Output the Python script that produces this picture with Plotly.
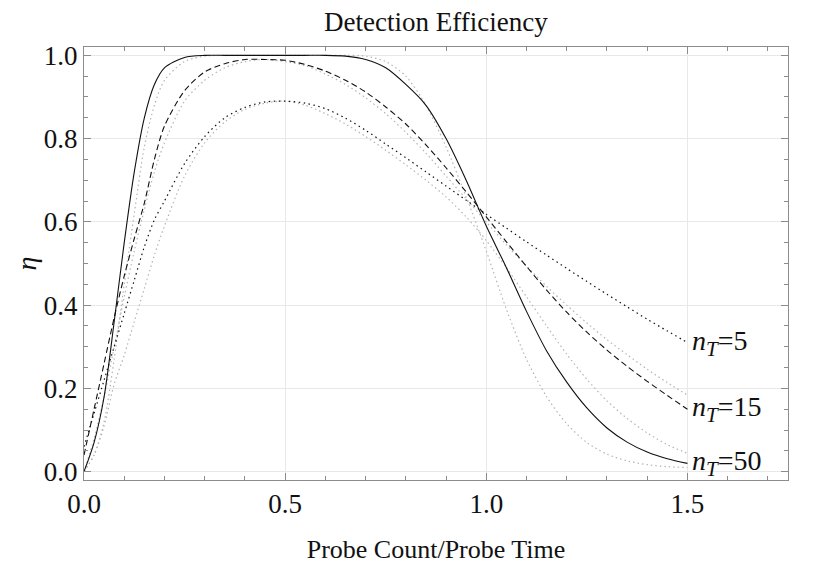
import plotly.graph_objects as go

# probe count / probe time samples
x = [0.0, 0.025, 0.05, 0.075, 0.1, 0.125, 0.15, 0.175, 0.2, 0.25, 0.3, 0.35, 0.4, 0.45,
     0.5, 0.55, 0.6, 0.65, 0.7, 0.75, 0.8, 0.85, 0.9, 0.95, 1.0, 1.05, 1.1, 1.15, 1.2,
     1.25, 1.3, 1.35, 1.4, 1.45, 1.5]

# black curves, one per n_T
eta_n50 = [0.0, 0.07, 0.18, 0.36, 0.55, 0.72, 0.85, 0.93, 0.97, 0.995, 1.0, 1.0, 1.0, 1.0,
           1.0, 1.0, 1.0, 0.998, 0.99, 0.97, 0.93, 0.88, 0.80, 0.70, 0.59, 0.49, 0.385, 0.29,
           0.215, 0.153, 0.105, 0.071, 0.047, 0.031, 0.02]
eta_n15 = [0.04, 0.15, 0.26, 0.37, 0.47, 0.56, 0.645, 0.75, 0.83, 0.915, 0.96, 0.98, 0.99,
           0.99, 0.988, 0.978, 0.962, 0.94, 0.912, 0.876, 0.835, 0.785, 0.73, 0.672, 0.612,
           0.552, 0.493, 0.436, 0.383, 0.335, 0.292, 0.253, 0.217, 0.183, 0.15]
eta_n5 = [0.06, 0.14, 0.22, 0.30, 0.38, 0.46, 0.54, 0.605, 0.65, 0.74, 0.805, 0.85, 0.875,
          0.888, 0.89, 0.885, 0.872, 0.849, 0.82, 0.787, 0.754, 0.72, 0.686, 0.652, 0.618,
          0.585, 0.552, 0.52, 0.488, 0.457, 0.426, 0.396, 0.366, 0.338, 0.31]

# light grey dotted comparison curves
grey_a = [0.0, 0.04, 0.12, 0.27, 0.45, 0.62, 0.78, 0.88, 0.94, 0.985, 0.998, 1.0, 1.0, 1.0,
          1.0, 1.0, 1.0, 1.0, 0.998, 0.985, 0.95, 0.88, 0.78, 0.66, 0.53, 0.39, 0.27, 0.18,
          0.115, 0.07, 0.042, 0.026, 0.017, 0.012, 0.01]
grey_b = [0.0, 0.04, 0.11, 0.21, 0.28, 0.36, 0.44, 0.52, 0.59, 0.71, 0.79, 0.84, 0.87,
          0.885, 0.89, 0.88, 0.86, 0.835, 0.805, 0.772, 0.737, 0.70, 0.66, 0.612, 0.555,
          0.49, 0.42, 0.35, 0.282, 0.222, 0.17, 0.128, 0.093, 0.065, 0.044]
grey_c = [0.0, 0.08, 0.18, 0.30, 0.42, 0.53, 0.63, 0.72, 0.79, 0.89, 0.94, 0.97, 0.985,
          0.99, 0.985, 0.975, 0.955, 0.93, 0.898, 0.86, 0.815, 0.765, 0.71, 0.655, 0.6,
          0.545, 0.494, 0.445, 0.40, 0.357, 0.317, 0.281, 0.246, 0.214, 0.184]

sub = "<i>n</i><sub><i><span style='font-size:21px'>T</span></i></sub>"
labels = [sub + "=5", sub + "=15", sub + "=50"]

FONT = "Liberation Serif, Times New Roman, serif"
GREY = "#b4b4b4"

fig = go.Figure()

for ys in [grey_a, grey_b, grey_c]:
    fig.add_trace(go.Scatter(x=x, y=ys, mode="lines",
                             line=dict(color=GREY, width=1.2, dash="1.5px,3px",
                                       shape="spline", smoothing=0.8)))

fig.add_trace(go.Scatter(x=x, y=eta_n5, mode="lines",
                         line=dict(color="#111", width=1.2, dash="1.5px,3.5px",
                                   shape="spline", smoothing=0.8)))
fig.add_trace(go.Scatter(x=x, y=eta_n15, mode="lines",
                         line=dict(color="#111", width=1.1, dash="6px,3.5px",
                                   shape="spline", smoothing=0.8)))
fig.add_trace(go.Scatter(x=x, y=eta_n50, mode="lines",
                         line=dict(color="#111", width=1.1,
                                   shape="spline", smoothing=0.8)))

# curve labels at the right end
for txt, ys in zip(labels, [eta_n5, eta_n15, eta_n50]):
    fig.add_annotation(x=x[-1], y=ys[-1], text=txt, showarrow=False,
                       xanchor="left", yanchor="middle", xshift=3,
                       font=dict(family=FONT, size=28, color="#111"))

# title
fig.add_annotation(x=0.5, y=1, xref="paper", yref="paper", yshift=25,
                   text="Detection Efficiency", showarrow=False,
                   xanchor="center", yanchor="middle",
                   font=dict(family=FONT, size=27, color="#111"))

# y axis label, drawn as a rotated annotation so it sits far out to the left
fig.add_annotation(x=0, y=0.5, xref="paper", yref="paper", xshift=-58,
                   text="<i>η</i>", showarrow=False, textangle=-90,
                   xanchor="center", yanchor="middle", borderpad=0,
                   font=dict(family=FONT, size=28, color="#111"))

axis_common = dict(
    showline=True, linecolor="#8c8c8c", linewidth=1, mirror="ticks",
    ticks="inside", ticklen=7, tickcolor="#8c8c8c", tickwidth=1,
    showgrid=True, gridcolor="#e8e8e8", gridwidth=1, zeroline=False,
    automargin=False,
    tickfont=dict(family=FONT, size=27, color="#111"),
)

fig.update_xaxes(range=[0, 1.75], tickvals=[0, 0.5, 1.0, 1.5], tickformat=".1f",
                 minor=dict(dtick=0.1, ticks="inside", ticklen=4, tickcolor="#8c8c8c",
                            showgrid=False),
                 title=dict(text="Probe Count/Probe Time", standoff=21,
                            font=dict(family=FONT, size=26, color="#111")),
                 **axis_common)
fig.update_yaxes(range=[-0.02, 1.02], tickvals=[0, 0.2, 0.4, 0.6, 0.8, 1.0],
                 tickformat=".1f",
                 minor=dict(dtick=0.05, ticks="inside", ticklen=4, tickcolor="#8c8c8c",
                            showgrid=False),
                 **axis_common)

# the page body adds an 8px offset, so the figure is sized to fit the window
fig.update_layout(
    width=826, height=560,
    margin=dict(l=76, r=46, t=39, b=88),
    paper_bgcolor="white", plot_bgcolor="white",
    showlegend=False,
)

fig.write_html("out.html")
